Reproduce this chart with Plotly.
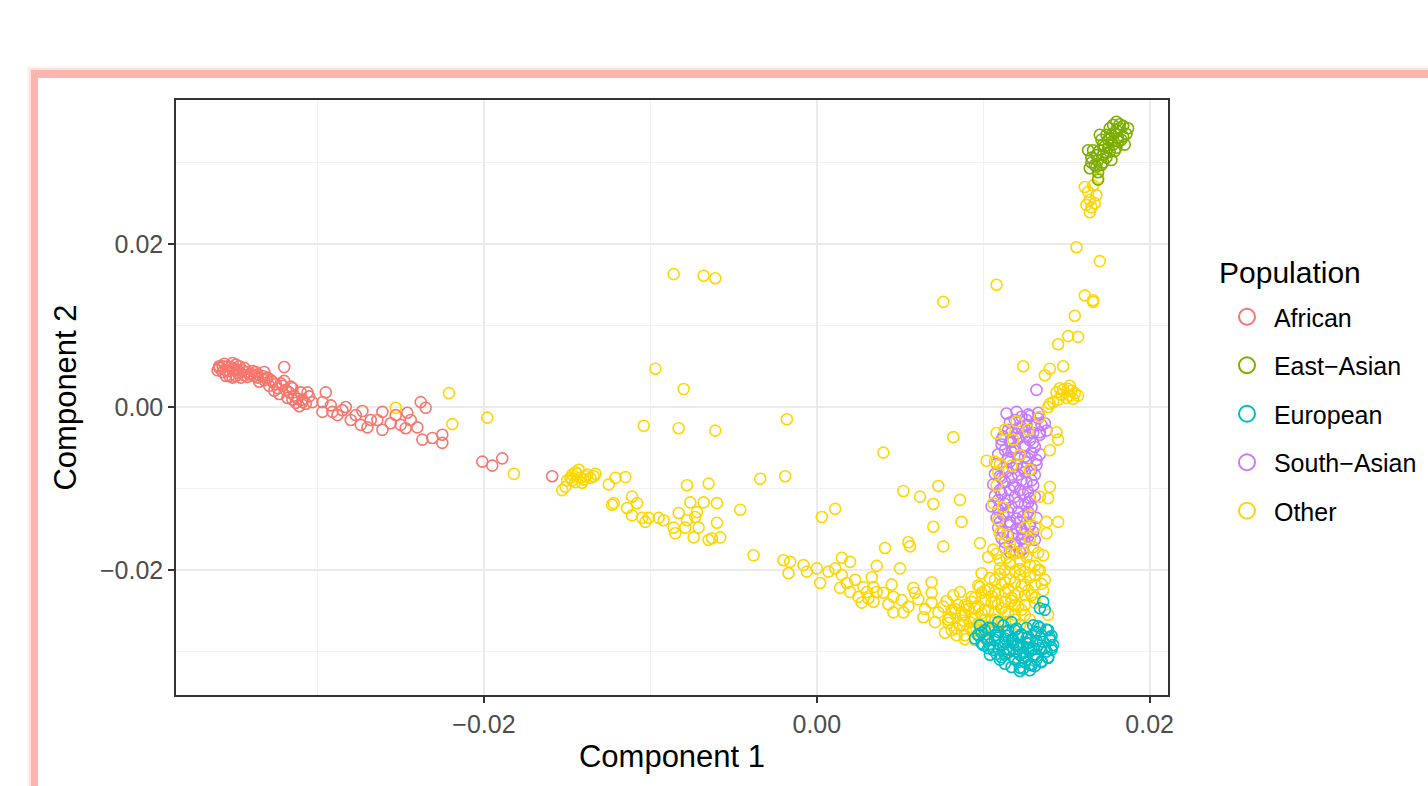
import plotly.graph_objects as go

# ---------------- data (Component 1, Component 2) ----------------
afr_x = [-0.0359,-0.0356,-0.0354,-0.0351,-0.0349,-0.0347,-0.0357,-0.0355,-0.0353,-0.0350,-0.0348,-0.0345,-0.0343,-0.0344,-0.0341,-0.0338,-0.0342,-0.0349,-0.0353,-0.0355,-0.0359,-0.0360,-0.0351,-0.0346,-0.0339,-0.0337,-0.0336,-0.0333,-0.0332,-0.0335,-0.0330,-0.0327,-0.0329,-0.0325,-0.0324,-0.0326,-0.0321,-0.0319,-0.0323,-0.0317,-0.0314,-0.0318,-0.0312,-0.0313,-0.0309,-0.0307,-0.0311,-0.0315,-0.0320,-0.0332,
         -0.0320,-0.0295,-0.0306,-0.0297,-0.0303,-0.0309,-0.0315,-0.0297,-0.0291,-0.0285,-0.0288,-0.0277,-0.0273,-0.0268,-0.0270,-0.0261,-0.0261,-0.0264,-0.0256,-0.0250,-0.0247,-0.0246,-0.0240,-0.0238,-0.0235,-0.0237,-0.0231,-0.0225,-0.0225,-0.0201,-0.0195,-0.0189,-0.0159,
         -0.0292,-0.0283,-0.0280,-0.0274,-0.0253,-0.0244,
         -0.0357,-0.0352,-0.0348,-0.0344,-0.0340,-0.0336,-0.0331,-0.0328,-0.0322,-0.0316,-0.0310,-0.0305]
afr_y = [0.0048,0.0053,0.0050,0.0054,0.0052,0.0050,0.0043,0.0045,0.0044,0.0047,0.0045,0.0045,0.0043,0.0048,0.0040,0.0038,0.0037,0.0038,0.0038,0.0038,0.0050,0.0045,0.0036,0.0036,0.0044,0.0043,0.0036,0.0038,0.0033,0.0031,0.0036,0.0031,0.0026,0.0028,0.0023,0.0020,0.0026,0.0021,0.0016,0.0018,0.0014,0.0011,0.0010,0.0005,0.0009,0.0004,0.0001,0.0023,0.0032,0.0043,
         0.0049,0.0018,0.0018,0.0006,0.0006,0.0006,0.0009,-0.0006,-0.0006,-0.0004,-0.0010,-0.0010,-0.0005,-0.0016,-0.0025,-0.0006,-0.0028,-0.0016,-0.0020,-0.0022,-0.0026,-0.0007,-0.0025,0.0006,-0.0001,-0.0040,-0.0038,-0.0034,-0.0044,-0.0067,-0.0072,-0.0063,-0.0085,
         0.0002,0.0000,-0.0016,-0.0022,-0.0010,-0.0016,
         0.0050,0.0049,0.0042,0.0039,0.0041,0.0040,0.0035,0.0033,0.0029,0.0025,0.0018,0.0013]

eas_x = [0.0163,0.0165,0.0167,0.0164,0.0169,0.0170,0.0172,0.0175,0.0177,0.0180,0.0182,0.0184,0.0181,0.0178,0.0176,0.0174,0.0171,0.0169,0.0183,0.0186,0.0182,0.0176,0.0174,0.0171,0.0178,0.0185,0.0180,0.0175,0.0177,0.0172,0.0168,0.0166,0.0170,0.0180,0.0187,0.0177,0.0169,
         0.0173,0.0176,0.0179,0.0181,0.0184,0.0172,0.0168,0.0165,0.0174,0.0179]
eas_y = [0.0315,0.0306,0.0297,0.0293,0.0303,0.0315,0.0322,0.0328,0.0334,0.0340,0.0342,0.0345,0.0330,0.0322,0.0313,0.0306,0.0297,0.0288,0.0328,0.0335,0.0347,0.0342,0.0334,0.0328,0.0346,0.0322,0.0318,0.0318,0.0325,0.0309,0.0309,0.0315,0.0334,0.0350,0.0342,0.0303,0.0279,
         0.0320,0.0330,0.0336,0.0326,0.0332,0.0300,0.0295,0.0300,0.0312,0.0314]

eur_x = [0.0098,0.0101,0.0097,0.0103,0.0100,0.0105,0.0109,0.0107,0.0106,0.0110,0.0113,0.0115,0.0117,0.0116,0.0113,0.0119,0.0122,0.0121,0.0123,0.0126,0.0128,0.0127,0.0125,0.0129,0.0131,0.0133,0.0135,0.0134,0.0137,0.0139,0.0135,0.0140,0.0132,0.0119,0.0110,0.0104,0.0122,0.0137,0.0136,0.0134,0.0141,0.0139,0.0130,0.0117,0.0109,
         0.0112,0.0118,0.0124,0.0130,0.0115,0.0121,0.0127,0.0108,0.0124,0.0132,0.0120,0.0126,
         0.0103,0.0112,0.0120,0.0133,0.0138,
         0.0099,0.0107,0.0114,0.0123,0.0131,0.0141,
         0.0102,0.0109,0.0118,0.0126,0.0132,0.0140,
         0.0104,0.0113,0.0120,0.0127,0.0136,0.0142,
         0.0106,0.0114,0.0122,0.0129,0.0134,0.0141,
         0.0108,0.0115,0.0124,0.0131,0.0138,
         0.0111,0.0119,0.0126,0.0132,0.0139,
         0.0113,0.0121,0.0128,0.0135,
         0.0117,0.0124,0.0131,
         0.0122,0.0128,
         0.0097,0.0095,0.0099,0.0103]
eur_y = [-0.0268,-0.0274,-0.0280,-0.0286,-0.0292,-0.0271,-0.0276,-0.0286,-0.0298,-0.0292,-0.0284,-0.0274,-0.0286,-0.0298,-0.0304,-0.0310,-0.0304,-0.0292,-0.0280,-0.0271,-0.0286,-0.0298,-0.0313,-0.0317,-0.0304,-0.0292,-0.0280,-0.0271,-0.0296,-0.0308,-0.0313,-0.0286,-0.0276,-0.0274,-0.0310,-0.0304,-0.0320,-0.0249,-0.0239,-0.0247,-0.0298,-0.0274,-0.0268,-0.0264,-0.0264,
         -0.0300,-0.0290,-0.0294,-0.0296,-0.0281,-0.0282,-0.0282,-0.0280,-0.0308,-0.0306,-0.0300,-0.0290,
         -0.0271,-0.0268,-0.0272,-0.0269,-0.0273,
         -0.0277,-0.0280,-0.0276,-0.0279,-0.0277,-0.0281,
         -0.0285,-0.0283,-0.0286,-0.0284,-0.0287,-0.0283,
         -0.0291,-0.0289,-0.0292,-0.0290,-0.0288,-0.0292,
         -0.0295,-0.0297,-0.0294,-0.0298,-0.0296,-0.0295,
         -0.0303,-0.0301,-0.0302,-0.0304,-0.0300,
         -0.0307,-0.0309,-0.0306,-0.0310,-0.0307,
         -0.0315,-0.0313,-0.0316,-0.0312,
         -0.0319,-0.0321,-0.0318,
         -0.0324,-0.0323,
         -0.0279,-0.0284,-0.0290,-0.0296]

sas_x = [0.0119,0.0123,0.0128,0.0133,0.0135,0.0131,0.0126,0.0121,0.0117,0.0125,0.0130,0.0134,0.0121,0.0128,0.0116,
         0.0113,0.0119,0.0125,0.0131,0.0115,0.0121,0.0127,0.0132,0.0112,0.0118,0.0124,0.0129,0.0111,0.0117,0.0123,0.0129,0.0110,0.0116,0.0122,0.0127,0.0109,0.0115,0.0121,0.0127,0.0109,0.0115,0.0121,0.0127,0.0110,0.0116,0.0122,0.0128,0.0112,0.0118,0.0124,0.0130,
         0.0113,0.0119,0.0125,0.0116,0.0122,0.0131,0.0132,
         0.0116,0.0126,0.0137,
         0.0115,0.0123,0.0138,
         0.0112,0.0120,0.0126,0.0134,
         0.0111,0.0117,0.0125,0.0130,
         0.0109,0.0117,0.0122,0.0129,0.0134,
         0.0108,0.0116,0.0120,0.0126,0.0132,
         0.0107,0.0114,0.0121,0.0125,0.0131,
         0.0106,0.0113,0.0118,0.0126,0.0130,
         0.0107,0.0111,0.0119,0.0124,0.0131,
         0.0105,0.0113,0.0117,0.0125,0.0129,
         0.0108,0.0112,0.0120,0.0124,0.0132,
         0.0109,0.0116,0.0120,0.0128,
         0.0111,0.0115,0.0123,0.0127,
         0.0113,0.0120,0.0124,
         0.0114,0.0120,0.0127,0.0133,0.0111,0.0118,0.0125,0.0110,0.0119,0.0128,0.0112,0.0123]
sas_y = [-0.0016,-0.0012,-0.0011,-0.0014,-0.0022,-0.0022,-0.0022,-0.0026,-0.0031,-0.0031,-0.0032,-0.0031,-0.0038,-0.0041,-0.0043,
         -0.0053,-0.0050,-0.0049,-0.0049,-0.0063,-0.0063,-0.0063,-0.0065,-0.0075,-0.0075,-0.0075,-0.0077,-0.0087,-0.0087,-0.0090,-0.0090,-0.0102,-0.0102,-0.0102,-0.0104,-0.0114,-0.0114,-0.0117,-0.0117,-0.0126,-0.0129,-0.0129,-0.0129,-0.0141,-0.0141,-0.0141,-0.0144,-0.0153,-0.0156,-0.0156,-0.0153,
         -0.0166,-0.0168,-0.0166,-0.0178,-0.0178,-0.0163,0.0021,
         -0.0019,-0.0016,-0.0020,
         -0.0028,-0.0025,-0.0029,
         -0.0036,-0.0033,-0.0037,-0.0034,
         -0.0046,-0.0043,-0.0047,-0.0044,
         -0.0058,-0.0055,-0.0059,-0.0056,-0.0058,
         -0.0070,-0.0067,-0.0071,-0.0068,-0.0071,
         -0.0082,-0.0079,-0.0083,-0.0080,-0.0083,
         -0.0095,-0.0092,-0.0096,-0.0093,-0.0096,
         -0.0109,-0.0106,-0.0110,-0.0107,-0.0110,
         -0.0122,-0.0119,-0.0123,-0.0120,-0.0123,
         -0.0136,-0.0133,-0.0137,-0.0134,-0.0136,
         -0.0148,-0.0145,-0.0149,-0.0146,
         -0.0161,-0.0158,-0.0162,-0.0159,
         -0.0173,-0.0170,-0.0174,
         -0.0008,-0.0006,-0.0009,-0.0007,-0.0040,-0.0052,-0.0061,-0.0085,-0.0098,-0.0112,-0.0131,-0.0150]

oth_x = [-0.0253,-0.0221,-0.0219,-0.0198,-0.0182,
         -0.0153,-0.0151,-0.0148,-0.0147,-0.0145,-0.0144,-0.0142,-0.0145,-0.0141,-0.0139,-0.0138,-0.0136,-0.0134,-0.0133,-0.0147,-0.0143,-0.0150,-0.0140,
         -0.0125,-0.0121,-0.0115,-0.0123,-0.0122,-0.0111,-0.0108,-0.0114,-0.0111,-0.0105,-0.0103,-0.0101,-0.0095,-0.0092,-0.0086,-0.0085,-0.0083,-0.0078,-0.0079,-0.0074,-0.0076,-0.0072,-0.0073,-0.0071,-0.0068,-0.0065,-0.0063,-0.0060,-0.0060,-0.0058,-0.0078,-0.0065,-0.0046,-0.0038,-0.0034,-0.0019,
         -0.0086,-0.0068,-0.0061,0.0076,0.0108,-0.0097,-0.0080,-0.0104,-0.0083,-0.0061,-0.0018,0.0040,
         0.0003,0.0011,0.0052,0.0062,0.0073,0.0070,0.0086,0.0070,0.0087,0.0041,0.0055,0.0056,0.0076,0.0098,0.0103,0.0036,0.0050,0.0015,0.0020,-0.0020,-0.0016,-0.0017,-0.0008,-0.0006,0.0000,0.0002,0.0007,0.0011,0.0015,0.0014,0.0018,0.0020,0.0023,0.0025,0.0028,0.0030,0.0034,0.0034,0.0036,0.0033,0.0045,0.0046,0.0046,0.0052,0.0051,0.0058,0.0059,0.0069,0.0069,0.0069,0.0064,0.0071,0.0076,0.0077,0.0082,0.0086,0.0080,0.0084,0.0090,0.0092,0.0099,0.0098,
         0.0027,0.0031,0.0040,0.0043,0.0055,0.0061,0.0065,0.0073,0.0078,0.0083,0.0088,0.0094,0.0089,
         0.0082,0.0108,0.0102,0.0117,0.0140,0.0144,0.0145,0.0140,0.0139,0.0134,0.0145,0.0138,0.0138,0.0133,0.0136,0.0133,0.0136,0.0139,0.0107,0.0109,0.0108,0.0106,0.0109,0.0110,0.0106,0.0120,0.0127,0.0134,0.0128,0.0131,0.0114,0.0128,0.0112,0.0117,0.0124,0.0130,
         0.0113,0.0118,0.0110,0.0122,0.0128,0.0110,0.0116,0.0125,
         0.0156,0.0170,0.0161,0.0166,0.0166,0.0155,0.0151,0.0157,0.0145,0.0148,0.0124,0.0140,0.0137,
         0.0146,0.0148,0.0151,0.0153,0.0155,0.0152,0.0150,0.0147,0.0145,0.0142,0.0140,0.0139,0.0144,0.0157,0.0154,0.0152,
         0.0161,0.0163,0.0164,0.0162,0.0165,0.0167,0.0164,0.0169,0.0166,0.0168,
         0.0110,0.0116,0.0122,0.0128,0.0113,0.0119,0.0125,0.0131,0.0107,0.0113,0.0119,0.0125,0.0131,0.0101,0.0107,0.0113,0.0119,0.0125,0.0131,0.0095,0.0101,0.0107,0.0113,0.0119,0.0125,0.0089,0.0095,0.0101,0.0107,0.0113,0.0119,0.0125,0.0083,0.0089,0.0095,0.0101,0.0107,0.0113,0.0086,0.0092,0.0098,0.0104,0.0079,0.0081,0.0089,0.0095,0.0134,0.0137,0.0128,0.0122,
         0.0108,0.0114,0.0120,0.0126,
         0.0110,0.0116,0.0122,0.0131,
         0.0104,0.0110,0.0116,0.0122,0.0128,
         0.0097,0.0103,0.0111,0.0115,0.0123,0.0127,0.0135,
         0.0093,0.0099,0.0105,0.0109,0.0117,0.0121,0.0129,
         0.0085,0.0093,0.0097,0.0105,0.0109,0.0117,0.0121,0.0131,
         0.0081,0.0087,0.0091,0.0099,0.0103,0.0111,0.0115,0.0123,
         0.0079,0.0093,0.0097,0.0105,0.0109,0.0119,
         0.0084,0.0088,0.0096,0.0101]
oth_y = [-0.0001,0.0017,-0.0021,-0.0013,-0.0082,
         -0.0102,-0.0098,-0.0087,-0.0083,-0.0080,-0.0082,-0.0087,-0.0092,-0.0093,-0.0085,-0.0083,-0.0087,-0.0085,-0.0082,-0.0090,-0.0077,-0.0090,-0.0089,
         -0.0095,-0.0087,-0.0086,-0.0120,-0.0118,-0.0110,-0.0118,-0.0124,-0.0133,-0.0136,-0.0141,-0.0136,-0.0136,-0.0139,-0.0148,-0.0155,-0.0130,-0.0139,-0.0148,-0.0160,-0.0117,-0.0129,-0.0135,-0.0148,-0.0117,-0.0163,-0.0161,-0.0142,-0.0118,-0.0160,-0.0096,-0.0094,-0.0126,-0.0182,-0.0088,-0.0085,
         0.0163,0.0161,0.0158,0.0129,0.0150,0.0047,0.0022,-0.0023,-0.0026,-0.0029,-0.0015,-0.0056,
         -0.0135,-0.0125,-0.0103,-0.0110,-0.0097,-0.0119,-0.0114,-0.0147,-0.0141,-0.0173,-0.0166,-0.0171,-0.0171,-0.0167,-0.0184,-0.0195,-0.0198,-0.0185,-0.0190,-0.0188,-0.0190,-0.0204,-0.0194,-0.0202,-0.0198,-0.0216,-0.0202,-0.0198,-0.0206,-0.0222,-0.0216,-0.0227,-0.0212,-0.0233,-0.0221,-0.0227,-0.0221,-0.0239,-0.0227,-0.0209,-0.0218,-0.0233,-0.0252,-0.0252,-0.0237,-0.0222,-0.0228,-0.0215,-0.0228,-0.0240,-0.0258,-0.0264,-0.0245,-0.0277,-0.0231,-0.0227,-0.0258,-0.0280,-0.0245,-0.0264,-0.0204,-0.0221,
         -0.0240,-0.0235,-0.0228,-0.0242,-0.0245,-0.0236,-0.0248,-0.0252,-0.0238,-0.0248,-0.0262,-0.0275,-0.0285,
         -0.0037,-0.0032,-0.0066,-0.0072,-0.0053,-0.0031,-0.0040,-0.0098,-0.0112,-0.0110,-0.0141,-0.0141,-0.0155,-0.0179,-0.0182,-0.0200,-0.0225,-0.0255,-0.0067,-0.0080,-0.0096,-0.0118,-0.0139,-0.0155,-0.0175,-0.0018,-0.0028,-0.0012,-0.0133,-0.0147,-0.0157,-0.0163,-0.0123,-0.0175,-0.0179,-0.0172,
         -0.0028,-0.0040,-0.0070,-0.0059,-0.0077,-0.0155,-0.0168,-0.0148,
         0.0196,0.0179,0.0137,0.0131,0.0129,0.0112,0.0087,0.0086,0.0077,0.0050,0.0050,0.0047,0.0039,
         0.0023,0.0021,0.0022,0.0020,0.0017,0.0014,0.0011,0.0015,0.0009,0.0006,0.0004,0.0000,0.0018,0.0014,0.0010,0.0026,
         0.0270,0.0264,0.0254,0.0248,0.0245,0.0250,0.0239,0.0281,0.0272,0.0260,
         -0.0188,-0.0190,-0.0188,-0.0194,-0.0200,-0.0202,-0.0202,-0.0206,-0.0212,-0.0215,-0.0215,-0.0218,-0.0218,-0.0225,-0.0227,-0.0227,-0.0231,-0.0231,-0.0234,-0.0234,-0.0237,-0.0239,-0.0239,-0.0243,-0.0243,-0.0243,-0.0247,-0.0249,-0.0252,-0.0252,-0.0255,-0.0255,-0.0252,-0.0255,-0.0259,-0.0261,-0.0261,-0.0264,-0.0268,-0.0271,-0.0274,-0.0276,-0.0261,-0.0274,-0.0280,-0.0286,-0.0200,-0.0212,-0.0261,-0.0268,
         -0.0180,-0.0185,-0.0179,-0.0184,
         -0.0198,-0.0193,-0.0199,-0.0195,
         -0.0210,-0.0205,-0.0211,-0.0206,-0.0209,
         -0.0219,-0.0224,-0.0218,-0.0223,-0.0220,-0.0225,-0.0217,
         -0.0233,-0.0228,-0.0232,-0.0229,-0.0234,-0.0228,-0.0231,
         -0.0243,-0.0239,-0.0244,-0.0240,-0.0242,-0.0238,-0.0245,-0.0240,
         -0.0249,-0.0252,-0.0248,-0.0253,-0.0250,-0.0247,-0.0254,-0.0249,
         -0.0265,-0.0260,-0.0266,-0.0262,-0.0266,-0.0261,
         -0.0272,-0.0268,-0.0273,-0.0269]

groups = ["African", "East\u2212Asian", "European", "South\u2212Asian", "Other"]
colors = {"African": "#F8766D", "East\u2212Asian": "#7CAE00", "European": "#00BFC4",
          "South\u2212Asian": "#C77CFF", "Other": "#FFD700"}
series = {"African": (afr_x, afr_y), "East\u2212Asian": (eas_x, eas_y), "European": (eur_x, eur_y),
          "South\u2212Asian": (sas_x, sas_y), "Other": (oth_x, oth_y)}

x_ticks = [-0.02, 0.0, 0.02]
x_ticktext = ["\u22120.02", "0.00", "0.02"]
y_ticks = [-0.02, 0.0, 0.02]
y_ticktext = ["\u22120.02", "0.00", "0.02"]

FONT = "Liberation Sans, Arial, Helvetica, sans-serif"

fig = go.Figure()
draw_order = ["South\u2212Asian", "Other", "European", "East\u2212Asian", "African"]
for g in draw_order:
    xs, ys = series[g]
    fig.add_trace(go.Scatter(x=xs, y=ys, mode="markers", name=g, showlegend=False,
                             marker=dict(symbol="circle-open", size=11, color=colors[g],
                                         line=dict(width=1.6, color=colors[g]))))
# legend entries
for i, g in enumerate(groups):
    fig.add_trace(go.Scatter(x=[None], y=[None], mode="markers", name="\u00a0" + g, legendgroup=g,
                             legendrank=i + 1, showlegend=True,
                             marker=dict(symbol="circle-open", size=20, color=colors[g],
                                         line=dict(width=2, color=colors[g]))))

W, H = 1428, 786
L, R, T, B = 176, 8, 100, 91
PANEL_RIGHT = 1168
pw, ph = W - L - R, H - T - B
x_domain_end = (PANEL_RIGHT - L) / pw

def px2paper_x(px):
    return (px - L) / pw

def px2paper_y(py):
    return (H - B - py) / ph

shapes = []
pink = "rgb(251,180,174)"
for off, op in [(10, 0.15), (8, 0.3), (6, 0.5)]:
    shapes.append(dict(type="rect", xref="paper", yref="paper", layer="below",
                       x0=px2paper_x(31 - off + 6), x1=px2paper_x(1460),
                       y0=px2paper_y(820), y1=px2paper_y(70 - off + 6),
                       line=dict(width=0), fillcolor=pink, opacity=op))
shapes.append(dict(type="rect", xref="paper", yref="paper", layer="below",
                   x0=px2paper_x(31), x1=px2paper_x(1460),
                   y0=px2paper_y(820), y1=px2paper_y(70),
                   line=dict(width=0), fillcolor=pink))
shapes.append(dict(type="rect", xref="paper", yref="paper", layer="below",
                   x0=px2paper_x(38), x1=px2paper_x(1460),
                   y0=px2paper_y(820), y1=px2paper_y(78),
                   line=dict(width=0), fillcolor="white"))

fig.update_layout(
    width=W, height=H, autosize=False,
    margin=dict(l=L, r=R, t=T, b=B, autoexpand=False),
    paper_bgcolor="white", plot_bgcolor="white",
    font=dict(family=FONT, color="black"),
    shapes=shapes,
    annotations=[dict(text="Population", xref="paper", yref="paper",
                      x=px2paper_x(1217), y=px2paper_y(272), xanchor="left", yanchor="middle",
                      showarrow=False, font=dict(size=30, family=FONT, color="black"))],
    legend=dict(font=dict(size=25, family=FONT, color="black"),
                x=px2paper_x(1227), xanchor="left", y=px2paper_y(294), yanchor="top",
                tracegroupgap=13, bgcolor="rgba(0,0,0,0)", itemsizing="trace"),
    xaxis=dict(domain=[0, x_domain_end], range=[-0.0385, 0.0211], tickvals=x_ticks, ticktext=x_ticktext,
               showgrid=True, gridcolor="#EBEBEB", gridwidth=2,
               minor=dict(tickvals=[-0.03, -0.01, 0.01], showgrid=True, gridcolor="#F2F2F2", gridwidth=1, ticks=""),
               zeroline=False, showline=True, linecolor="#333333", linewidth=1.5, mirror=True,
               ticks="outside", ticklen=6, tickwidth=1.5, tickcolor="#333333",
               tickfont=dict(size=25, color="#4D4D4D", family=FONT),
               title=dict(text="Component 1", font=dict(size=31, family=FONT, color="black"), standoff=9)),
    yaxis=dict(range=[-0.03534, 0.03767], tickvals=y_ticks, ticktext=y_ticktext,
               showgrid=True, gridcolor="#EBEBEB", gridwidth=2,
               minor=dict(tickvals=[-0.03, -0.01, 0.01, 0.03], showgrid=True, gridcolor="#F2F2F2", gridwidth=1, ticks=""),
               zeroline=False, showline=True, linecolor="#333333", linewidth=1.5, mirror=True,
               ticks="outside", ticklen=6, tickwidth=1.5, tickcolor="#333333",
               tickfont=dict(size=25, color="#4D4D4D", family=FONT),
               title=dict(text="Component 2", font=dict(size=31, family=FONT, color="black"), standoff=14)),
)

fig.write_html("out.html")
